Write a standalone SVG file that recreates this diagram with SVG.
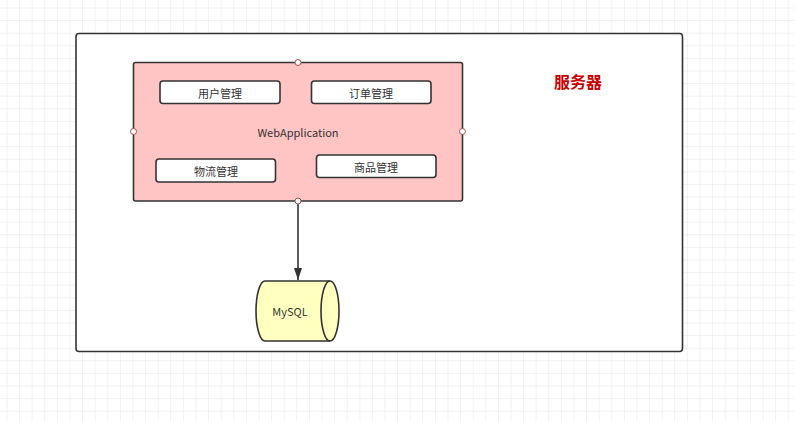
<svg xmlns="http://www.w3.org/2000/svg" width="795" height="421" viewBox="0 0 795 421">
  <defs>
    <pattern id="grid" x="6.5" y="7.5" width="12.6" height="12.6" patternUnits="userSpaceOnUse">
      <path d="M0 0 H12.6 M0 0 V12.6" fill="none" stroke="#e3e3e3" stroke-width="1"/>
    </pattern>
    <marker id="arrow" viewBox="0 0 12 8" refX="12" refY="4" markerWidth="12" markerHeight="8" markerUnits="userSpaceOnUse" orient="auto" preserveAspectRatio="none">
      <path d="M0 0 L12 4 L0 8 Z" fill="#333"/>
    </marker>
    <style>
      .box { fill: #fff; stroke: #333; stroke-width: 1.6; }
      .mod { fill: #fff; stroke: #333; stroke-width: 1.6; }
      .lbl { font-family: "Noto Sans CJK SC", "Liberation Sans", sans-serif; font-size: 11px; fill: #333; text-anchor: middle; dominant-baseline: central; }
      .pt { fill: #fff; stroke: #a05050; stroke-width: 1; }
    </style>
  </defs>
  <rect x="0" y="0" width="795" height="421" fill="#fff"/>
  <rect x="0" y="0" width="795" height="421" fill="url(#grid)"/>

  <g id="server">
    <rect class="box" x="76" y="33.5" width="606.5" height="318" rx="3"/>
    <text x="578" y="81" font-family="Noto Sans CJK SC, sans-serif" font-size="16" font-weight="bold" fill="#cc0000" text-anchor="middle" dominant-baseline="central">服务器</text>
  </g>

  <g id="webapp">
    <rect x="133.5" y="62.5" width="329" height="138.5" rx="2" fill="#ffc4c4" stroke="#333" stroke-width="1.6"/>
    <text class="lbl" x="298" y="132">WebApplication</text>
  </g>

  <g id="user">
    <rect class="mod" x="160" y="81" width="120" height="22.5" rx="3"/>
    <text class="lbl" x="220" y="92.5">用户管理</text>
  </g>
  <g id="order">
    <rect class="mod" x="311.5" y="81" width="119.5" height="22.5" rx="3"/>
    <text class="lbl" x="371" y="92.5">订单管理</text>
  </g>
  <g id="logistics">
    <rect class="mod" x="156" y="159" width="119.5" height="23" rx="3"/>
    <text class="lbl" x="216" y="170.5">物流管理</text>
  </g>
  <g id="goods">
    <rect class="mod" x="316.5" y="155" width="119.5" height="22.5" rx="3"/>
    <text class="lbl" x="376" y="166.5">商品管理</text>
  </g>

  <g id="connectors">
    <line x1="298" y1="201" x2="298" y2="280" stroke="#333" stroke-width="1.6" marker-end="url(#arrow)"/>
  </g>

  <g id="points">
    <circle class="pt" cx="298" cy="62.5" r="3"/>
    <circle class="pt" cx="298" cy="201" r="3"/>
    <circle class="pt" cx="133.5" cy="131.5" r="3"/>
    <circle class="pt" cx="462.5" cy="131.5" r="3"/>
  </g>

  <g id="mysql">
    <path d="M265 281 H330 A9 30 0 0 1 330 341 H265 A9 30 0 0 1 265 281 Z" fill="#ffffc0" stroke="#333" stroke-width="1.6"/>
    <path d="M330 281 A9 30 0 0 0 330 341" fill="none" stroke="#333" stroke-width="1.6"/>
    <text class="lbl" x="290" y="311">MySQL</text>
  </g>
</svg>
